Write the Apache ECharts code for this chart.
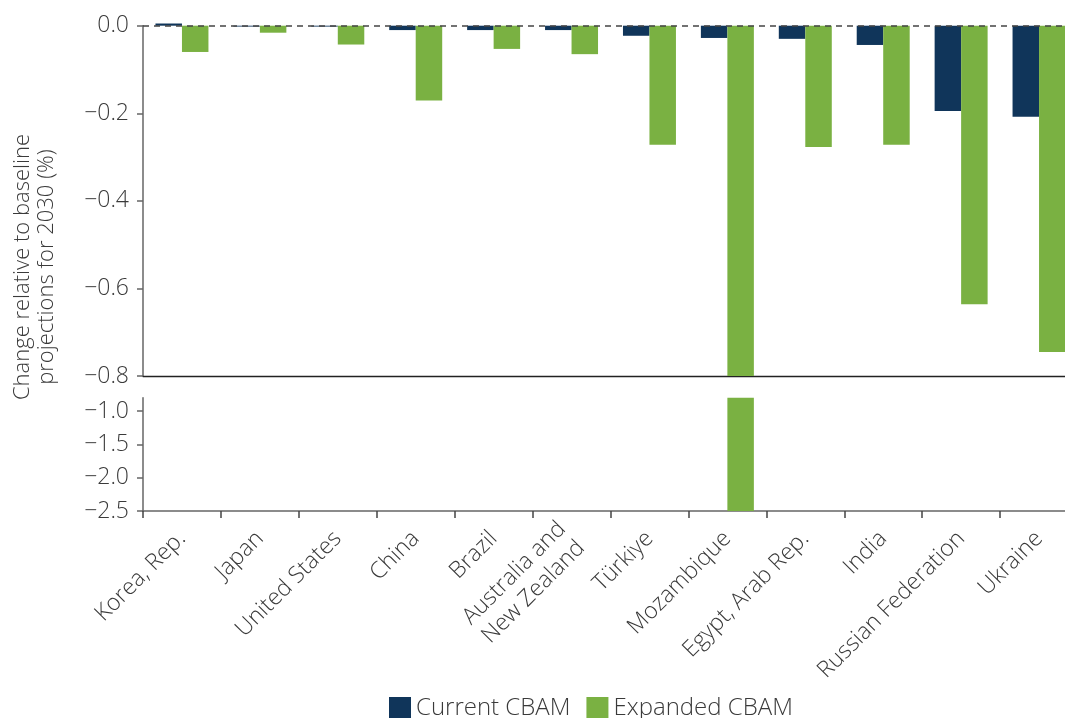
<!DOCTYPE html>
<html>
<head>
<meta charset="utf-8">
<script src="https://cdn.jsdelivr.net/npm/echarts@6/dist/echarts.min.js"></script>
<style>html,body{margin:0;padding:0;background:#fff}#c{width:1065px;height:718px}</style>
</head>
<body>
<div id="c"></div>
<script>
const categories = ["Korea, Rep.", "Japan", "United States", "China", "Brazil", "Australia and\nNew Zealand", "Türkiye", "Mozambique", "Egypt, Arab Rep.", "India", "Russian Federation", "Ukraine"];
const currentCBAM = [0.005, -0.002, -0.002, -0.010, -0.010, -0.010, -0.023, -0.028, -0.030, -0.044, -0.195, -0.208];
const expandedCBAM = [-0.060, -0.016, -0.043, -0.171, -0.053, -0.065, -0.272, -2.5, -0.277, -0.272, -0.636, -0.745];
const upperTicks = [0, -0.2, -0.4, -0.6, -0.8];
const lowerTicks = [-1.0, -1.5, -2.0, -2.5];
const seriesNames = ["Current CBAM", "Expanded CBAM"];

const NAVY = '#10355a', GREEN = '#7ab142', TXT = '#3a3a3a', AX = '#666';
const FONT = 'Open Sans';
const FW = 300;
const fmt = v => {
  const s = Math.abs(v).toFixed(1);
  return (v < 0 ? '\u2212' : '') + s;
};

const chart = echarts.init(document.getElementById('c'), null, {renderer: 'canvas'});
const gridLeft = 143, gridWidth = 935;
chart.setOption({
  animation: false,
  textStyle: {fontFamily: FONT},
  grid: [
    {left: gridLeft, width: gridWidth, top: 25.7, height: 350.3, outerBoundsMode: 'none', containLabel: false},
    {left: gridLeft, width: gridWidth, top: 397.7, height: 113.3, outerBoundsMode: 'none', containLabel: false}
  ],
  legend: {
    top: 696, left: 389, padding: 0,
    itemWidth: 22, itemHeight: 22, itemGap: 16,
    icon: 'rect',
    textStyle: {fontSize: 24, color: TXT, fontFamily: FONT, fontWeight: FW, padding: [0,0,0,0]},
    data: seriesNames
  },
  xAxis: [
    {type: 'category', gridIndex: 0, data: categories, position: 'bottom',
     axisLine: {show: true, onZero: false, lineStyle: {color: '#222', width: 1.3}},
     axisTick: {show: false}, axisLabel: {show: false}, splitLine: {show: false}},
    {type: 'category', gridIndex: 1, data: categories, position: 'bottom',
     axisLine: {show: true, onZero: false, lineStyle: {color: AX, width: 1.5}},
     axisTick: {show: true, length: 7, lineStyle: {color: '#444', width: 1.5}},
     axisLabel: {interval: 0, rotate: 45, fontSize: 23, color: TXT, fontFamily: FONT, fontWeight: FW, margin: 24, lineHeight: 27, align: 'right'},
     splitLine: {show: false}}
  ],
  yAxis: [
    {type: 'value', gridIndex: 0, min: -0.8, max: 0, interval: 0.2,
     axisLine: {show: true, lineStyle: {color: AX, width: 1.5}},
     axisTick: {show: true, length: 6, lineStyle: {color: AX, width: 1.5}, customValues: upperTicks},
     axisLabel: {fontSize: 23, color: TXT, fontFamily: FONT, fontWeight: FW, margin: 14, formatter: fmt, customValues: upperTicks},
     splitLine: {show: false}},
    {type: 'value', gridIndex: 1, min: -2.5, max: -0.8, interval: 0.5,
     axisLine: {show: true, lineStyle: {color: AX, width: 1.5}},
     axisTick: {show: true, length: 6, lineStyle: {color: AX, width: 1.5}, customValues: lowerTicks},
     axisLabel: {fontSize: 23, color: TXT, fontFamily: FONT, fontWeight: FW, margin: 14, formatter: fmt, customValues: lowerTicks},
     splitLine: {show: false}}
  ],
  graphic: [{
    type: 'text', x: 35, y: 267, rotation: Math.PI / 2,
    style: {text: 'Change relative to baseline\nprojections for 2030 (%)', fill: TXT, font: FW + ' 22px "' + FONT + '"',
      align: 'center', verticalAlign: 'middle', lineHeight: 24}
  }],
  series: [
    {name: seriesNames[0], type: 'bar', xAxisIndex: 0, yAxisIndex: 0, data: currentCBAM,
     itemStyle: {color: NAVY}, barGap: '0%', barCategoryGap: '32%', clip: false,
     markLine: {silent: true, symbol: 'none', z: 10, label: {show: false},
       lineStyle: {type: [6, 5], color: '#444', width: 1.5}, data: [{yAxis: 0}]}},
    {name: seriesNames[1], type: 'bar', xAxisIndex: 0, yAxisIndex: 0, data: expandedCBAM,
     itemStyle: {color: GREEN}, barGap: '0%', barCategoryGap: '32%', clip: true},
    {name: seriesNames[0], type: 'bar', xAxisIndex: 1, yAxisIndex: 1, data: currentCBAM,
     itemStyle: {color: NAVY}, barGap: '0%', barCategoryGap: '32%', clip: true},
    {name: seriesNames[1], type: 'bar', xAxisIndex: 1, yAxisIndex: 1, data: expandedCBAM,
     itemStyle: {color: GREEN}, barGap: '0%', barCategoryGap: '32%', clip: true}
  ]
});
</script>
</body>
</html>
